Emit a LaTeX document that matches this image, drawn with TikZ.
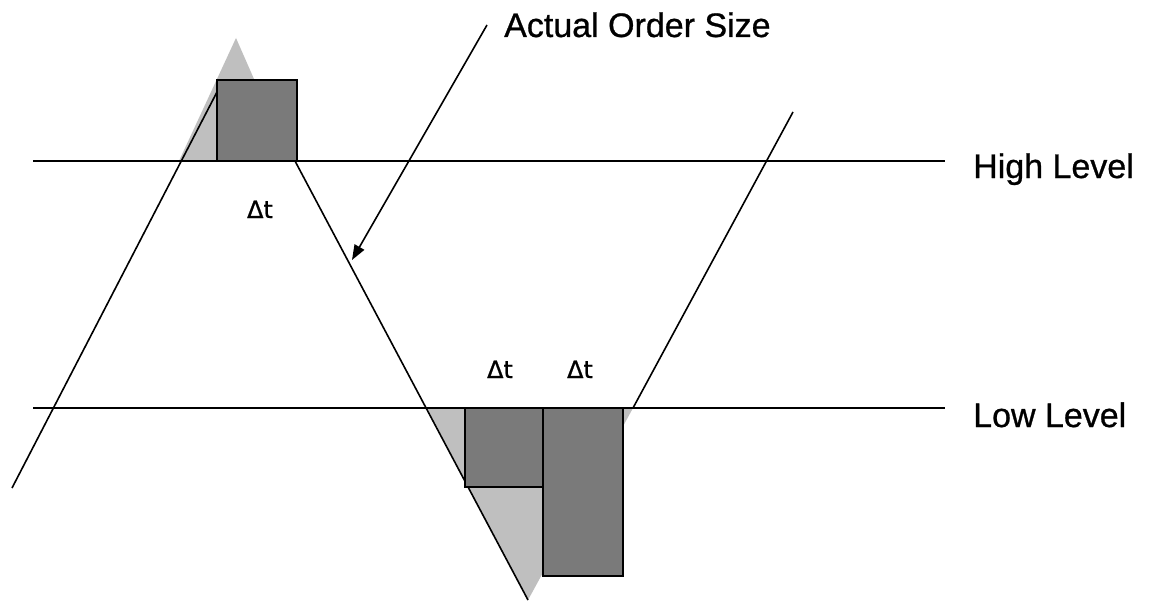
\documentclass[tikz,border=0pt]{standalone}
\usepackage{fontspec}
\setmainfont{Liberation Sans}
\newfontfamily\dtfont[FakeBold=0.8]{DejaVu Sans}
\newfontfamily\lblfont[FakeBold=0.8]{Liberation Sans}
\usetikzlibrary{arrows.meta}
\definecolor{lightfill}{gray}{0.75}
\definecolor{boxfill}{gray}{0.48}
\tikzset{
  level/.style={draw=black, line width=1.7pt},
  slope/.style={draw=black, line width=1.6pt},
  tri/.style={fill=lightfill, draw=none},
  orderbox/.style={fill=boxfill, draw=black, line width=2.4pt, inner sep=0pt, outer sep=0pt, anchor=north west},
  biglabel/.style={font=\lblfont\fontsize{34}{36}\selectfont, inner sep=0pt, anchor=base west},
  dtlabel/.style={font=\dtfont\fontsize{24}{26}\selectfont, inner sep=0pt, anchor=base},
}
\begin{document}
\begin{tikzpicture}[x=1pt, y=-1pt]
\useasboundingbox (0,0) rectangle (1158,602);
\fill[white] (0,0) rectangle (1158,602);
% light triangles
\path[tri] (179,161) -- (236,38) -- (290,161) -- cycle;
\path[tri] (427,408) -- (633,408) -- (528,600) -- cycle;
% level lines
\coordinate (hl1) at (33,161); \coordinate (hl2) at (945,161);
\coordinate (ll1) at (33,408); \coordinate (ll2) at (945,408);
\draw[level] (hl1) -- (hl2);
\draw[level] (ll1) -- (ll2);
% sloped lines
\coordinate (p1) at (12,488);
\coordinate (p2) at (217,92);
\coordinate (p3) at (295,161);
\coordinate (p4) at (528,600);
\coordinate (p5) at (633,408);
\coordinate (p6) at (793,112);
\draw[slope] (p1) -- (p2);
\draw[slope] (p3) -- (p4);
\draw[slope] (p5) -- (p6);
% boxes
\node[orderbox, minimum width=80pt, minimum height=81pt] (boxU) at (217,80) {};
\node[orderbox, minimum width=78pt, minimum height=79pt] (boxA) at (465,408) {};
\node[orderbox, minimum width=80pt, minimum height=168pt] (boxB) at (543,408) {};
% labels
\node[biglabel] (aos) at (504,37) {Actual Order Size};
\node[biglabel] (high) at (973,178) {High Level};
\node[biglabel] (low) at (973,427) {Low Level};
\node[dtlabel] (dt1) at (260,218) {Δt};
\node[dtlabel] (dt2) at (500,378) {Δt};
\node[dtlabel] (dt3) at (580,378) {Δt};
% arrow
\coordinate (astart) at (487,25);
\coordinate (tip) at (352,260);
\draw[line width=1.6pt, -{Triangle[length=15pt,width=11pt]}] (astart) -- (tip);
\end{tikzpicture}
\end{document}
